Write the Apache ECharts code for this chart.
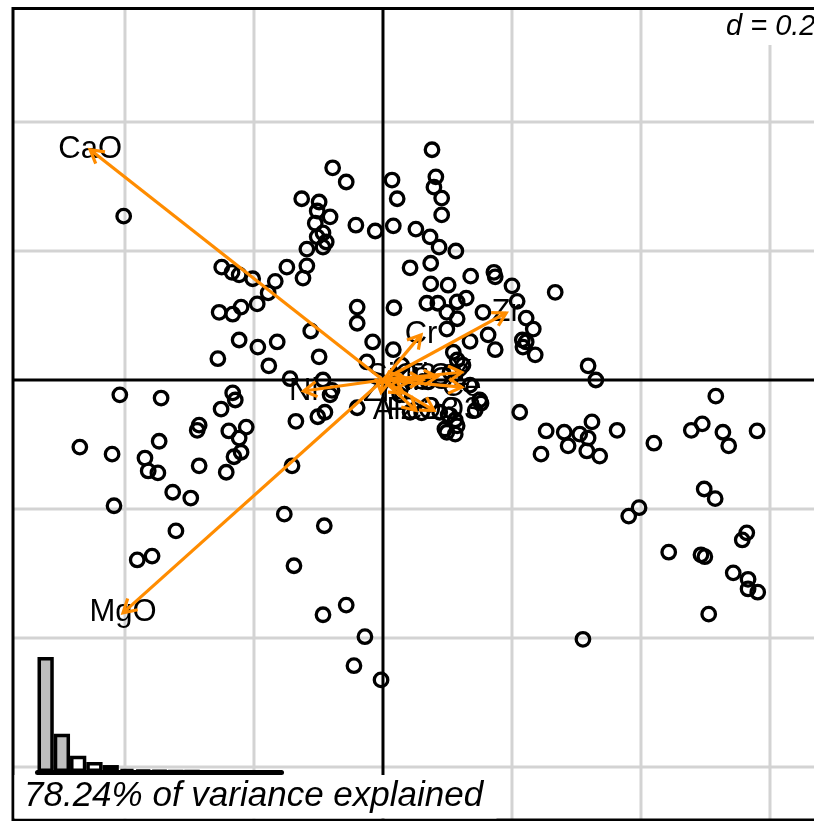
<!DOCTYPE html>
<html>
<head>
<meta charset="utf-8">
<script src="https://cdn.jsdelivr.net/npm/echarts@6/dist/echarts.min.js"></script>
<style>
html,body{margin:0;padding:0;background:#fff;overflow:hidden}
#main{width:814px;height:821px}
</style>
</head>
<body>
<div id="main"></div>
<script>
// grid every d = 0.2
var gridTicks = [-0.6, -0.4, -0.2, 0.2, 0.4, 0.6];
var gridStep = '0.2';

// row scores (PC1, PC2)
var rowScores = [
  [-0.470,-0.104],[-0.420,-0.115],[-0.417,-0.195],[-0.408,-0.023],[-0.402,0.254],[-0.381,-0.279],[-0.358,-0.273],
  [-0.369,-0.121],[-0.364,-0.141],[-0.349,-0.144],[-0.347,-0.095],[-0.344,-0.028],[-0.326,-0.174],[-0.321,-0.234],
  [-0.298,-0.183],[-0.288,-0.078],[-0.285,-0.070],[-0.285,-0.133],[-0.256,0.033],[-0.251,-0.045],[-0.243,-0.143],
  [-0.239,-0.079],[-0.233,-0.020],[-0.229,-0.031],[-0.231,-0.119],[-0.223,-0.090],[-0.220,-0.112],[-0.212,-0.073],
  [-0.223,0.062],[-0.194,0.051],[-0.177,0.022],[-0.164,0.059],[-0.153,-0.208],[-0.141,-0.133],[-0.138,-0.288],
  [-0.135,-0.064],[-0.091,-0.226],[-0.093,-0.364],[-0.057,-0.349],[-0.028,-0.398],[-0.045,-0.443],[-0.003,-0.465],
  [-0.254,0.105],[-0.233,0.102],[-0.220,0.113],[-0.195,0.118],[-0.178,0.135],[-0.250,0.175],[-0.234,0.167],
  [-0.223,0.163],[-0.202,0.157],[-0.167,0.153],[-0.149,0.175],[-0.118,0.177],[-0.124,0.158],[-0.112,0.076],
  [-0.099,0.036],
  [-0.078,0.329],[-0.057,0.307],[-0.126,0.281],[-0.099,0.276],[-0.102,0.262],[-0.082,0.253],[-0.105,0.243],
  [-0.093,0.228],[-0.102,0.222],[-0.088,0.214],[-0.093,0.206],[-0.118,0.203],[-0.042,0.240],[-0.012,0.231],
  [0.014,0.310],[0.022,0.281],[0.016,0.239],[0.076,0.357],[0.082,0.315],[0.079,0.299],[0.091,0.282],
  [0.091,0.256],[0.051,0.234],[0.073,0.222],[0.087,0.206],[0.113,0.200],[0.042,0.174],[0.074,0.181],
  [0.136,0.161],[0.172,0.167],[0.174,0.160],[0.074,0.149],[0.101,0.147],[0.200,0.146],[0.267,0.136],
  [0.068,0.119],[0.085,0.119],[0.115,0.121],[0.129,0.127],[0.208,0.122],[0.017,0.112],[-0.040,0.113],
  [-0.040,0.088],[0.099,0.105],[0.155,0.105],[0.115,0.095],[0.222,0.096],[0.233,0.079],[0.099,0.079],
  [0.163,0.070],[0.216,0.062],[0.222,0.059],[0.135,0.060],[0.174,0.047],[0.217,0.051],[0.236,0.039],
  [0.109,0.043],[0.115,0.031],[-0.016,0.059],[0.016,0.047],[-0.025,0.028],
  [-0.093,0.000],[-0.079,-0.016],[-0.082,-0.023],[-0.090,-0.050],[-0.101,-0.057],[-0.040,-0.043],[-0.144,0.002],
  [0.029,0.023],[0.070,-0.003],[0.042,-0.050],[0.060,-0.051],[0.088,-0.050],[0.101,-0.054],[0.112,-0.062],
  [0.115,-0.071],[0.096,-0.076],[0.112,-0.084],[0.099,-0.081],[0.143,-0.047],[0.150,-0.031],[0.152,-0.036],
  [0.212,-0.050],[0.124,0.023],[0.104,0.012],[0.135,-0.008],[0.026,-0.023],
  [0.318,0.022],[0.330,0.000],[0.253,-0.079],[0.245,-0.115],[0.281,-0.081],[0.287,-0.102],[0.305,-0.084],
  [0.318,-0.090],[0.324,-0.065],[0.316,-0.110],[0.336,-0.118],[0.363,-0.078],[0.420,-0.098],[0.516,-0.025],
  [0.478,-0.078],[0.495,-0.068],[0.527,-0.081],[0.536,-0.102],[0.580,-0.079],[0.498,-0.169],[0.515,-0.184],
  [0.397,-0.198],[0.381,-0.211],[0.443,-0.267],[0.493,-0.271],[0.499,-0.274],[0.564,-0.237],[0.557,-0.248],
  [0.543,-0.299],[0.566,-0.309],[0.566,-0.324],[0.581,-0.329],[0.505,-0.363],[0.310,-0.402]
];

// variable arrows
var varNames = ['SiO2','TiO2','Al2O3','Fe2O3','MgO','CaO','K2O','Ni','Cr','V','Zn','Zr','Nb','Ce','Y'];
var varX = [0.029, 0.084, 0.051, 0.079, -0.403, -0.454, 0.062, -0.123, 0.059, 0.031, -0.003, 0.191, 0.042, 0.122, 0.122];
var varY = [0.005, 0.005, -0.047, -0.047, -0.361, 0.357, 0.000, -0.017, 0.070, -0.020, -0.019, 0.104, -0.002, -0.011, 0.012];

// eigenvalues
var eigValues = [8.80, 2.93, 1.235, 0.77, 0.533, 0.23, 0.15, 0.116, 0.077, 0.062, 0.039, 0.023, 0.015, 0.008, 0.004];

var FONT = '"Liberation Sans", Arial, Helvetica, sans-serif';
var ORANGE = '#FF8C00';

var eigSum = 0;
for (var i = 0; i < eigValues.length; i++) eigSum += eigValues[i];
var pctText = ((eigValues[0] + eigValues[1]) / eigSum * 100).toFixed(2) + '% of variance explained';

var chart = echarts.init(document.getElementById('main'));

function gridLines(params, api) {
    var cs = params.coordSys;
    var v = api.value(0);
    var px = api.coord([v, 0])[0];
    var py = api.coord([0, v])[1];
    var st = {stroke: '#D3D3D3', lineWidth: 3};
    return {type: 'group', children: [
        {type: 'line', shape: {x1: px, y1: cs.y, x2: px, y2: cs.y + cs.height}, style: st},
        {type: 'line', shape: {x1: cs.x, y1: py, x2: cs.x + cs.width, y2: py}, style: st}
    ]};
}

// zero axes plus the frame (left, top, bottom; the right side is off the page)
function zeroLines(params, api) {
    var cs = params.coordSys;
    var o = api.coord([0, 0]);
    var st = {stroke: '#000', lineWidth: 3};
    var r = cs.x + cs.width, b = cs.y + cs.height;
    return {type: 'group', children: [
        {type: 'line', shape: {x1: o[0], y1: cs.y, x2: o[0], y2: b}, style: st},
        {type: 'line', shape: {x1: cs.x, y1: o[1], x2: r, y2: o[1]}, style: st},
        {type: 'polyline', shape: {points: [[r, cs.y], [cs.x, cs.y], [cs.x, b], [r, b]]}, style: {stroke: '#000', lineWidth: 3, fill: null}}
    ]};
}

function arrow(params, api) {
    var o = api.coord([0, 0]);
    var t = api.coord([api.value(0), api.value(1)]);
    var ang = Math.atan2(t[1] - o[1], t[0] - o[0]);
    var L = 15, a = Math.PI / 6;
    var st = {stroke: ORANGE, lineWidth: 3.2, fill: null};
    return {type: 'group', children: [
        {type: 'line', shape: {x1: o[0], y1: o[1], x2: t[0], y2: t[1]}, style: st},
        {type: 'polyline', shape: {points: [
            [t[0] - L * Math.cos(ang - a), t[1] - L * Math.sin(ang - a)],
            [t[0], t[1]],
            [t[0] - L * Math.cos(ang + a), t[1] - L * Math.sin(ang + a)]
        ]}, style: st}
    ]};
}

function varLabel(params, api) {
    var p = api.coord([api.value(0), api.value(1)]);
    return {type: 'text', x: p[0], y: p[1], style: {
        text: varNames[params.dataIndex], font: '31px ' + FONT, fill: '#000',
        align: 'center', verticalAlign: 'middle'
    }};
}

var option = {
    animation: false,
    grid: [
        {left: 13, top: 8.5, width: 860, height: 811.5, outerBoundsMode: 'none', containLabel: false, show: false},
        {left: 37.5, top: 657, width: 244, height: 115, outerBoundsMode: 'none', show: false}
    ],
    xAxis: [
        {type: 'value', gridIndex: 0, min: -0.5736, max: 0.7597, show: false, splitLine: {show: false}},
        {type: 'category', gridIndex: 1, data: eigValues.map(function (v, i) { return 'PC' + (i + 1); }), show: false}
    ],
    yAxis: [
        {type: 'value', gridIndex: 0, min: -0.6822, max: 0.576, show: false, splitLine: {show: false}},
        {type: 'value', gridIndex: 1, min: 0, max: eigValues[0], show: false}
    ],
    series: [
        {type: 'custom', xAxisIndex: 0, yAxisIndex: 0, clip: true, silent: true, z: 1,
         data: gridTicks.map(function (v) { return [v, v]; }), renderItem: gridLines},
        {type: 'custom', xAxisIndex: 0, yAxisIndex: 0, silent: true, z: 1,
         data: [[0, 0]], renderItem: zeroLines},
        {type: 'bar', xAxisIndex: 1, yAxisIndex: 1, barCategoryGap: '0%', silent: true, z: 2,
         data: eigValues.map(function (v, i) {
             return {value: v, itemStyle: {color: i < 2 ? '#BEBEBE' : '#fff', borderColor: '#000', borderWidth: 3.5}};
         }),
         markLine: {silent: true, symbol: 'none', label: {show: false},
                    lineStyle: {color: '#000', width: 5, type: 'solid', cap: 'round'},
                    data: [{yAxis: 0}]}},
        {type: 'scatter', xAxisIndex: 0, yAxisIndex: 0, symbol: 'circle', symbolSize: 13.5, silent: true, z: 3,
         itemStyle: {color: 'rgba(0,0,0,0)', borderColor: '#000', borderWidth: 3.3, opacity: 1},
         data: rowScores},
        {type: 'custom', xAxisIndex: 0, yAxisIndex: 0, silent: true, z: 4,
         data: varX.map(function (x, i) { return [x, varY[i]]; }), renderItem: varLabel},
        {type: 'custom', xAxisIndex: 0, yAxisIndex: 0, silent: true, z: 5,
         data: varX.map(function (x, i) { return [x, varY[i]]; }), renderItem: arrow}
    ],
    graphic: [
        {type: 'rect', z: 100, shape: {x: 712, y: 10, width: 130, height: 35}, style: {fill: '#fff'}},
        {type: 'text', z: 101, x: 726, y: 27, style: {text: 'd = ' + gridStep, font: 'italic 29px ' + FONT, fill: '#000', verticalAlign: 'middle', align: 'left'}},
        {type: 'rect', z: 100, shape: {x: 14.5, y: 775, width: 482, height: 43.5}, style: {fill: '#fff'}},
        {type: 'text', z: 101, x: 24, y: 796, style: {text: pctText, font: 'italic 35px ' + FONT, fill: '#000', verticalAlign: 'middle', align: 'left'}}
    ]
};

chart.setOption(option);
</script>
</body>
</html>
